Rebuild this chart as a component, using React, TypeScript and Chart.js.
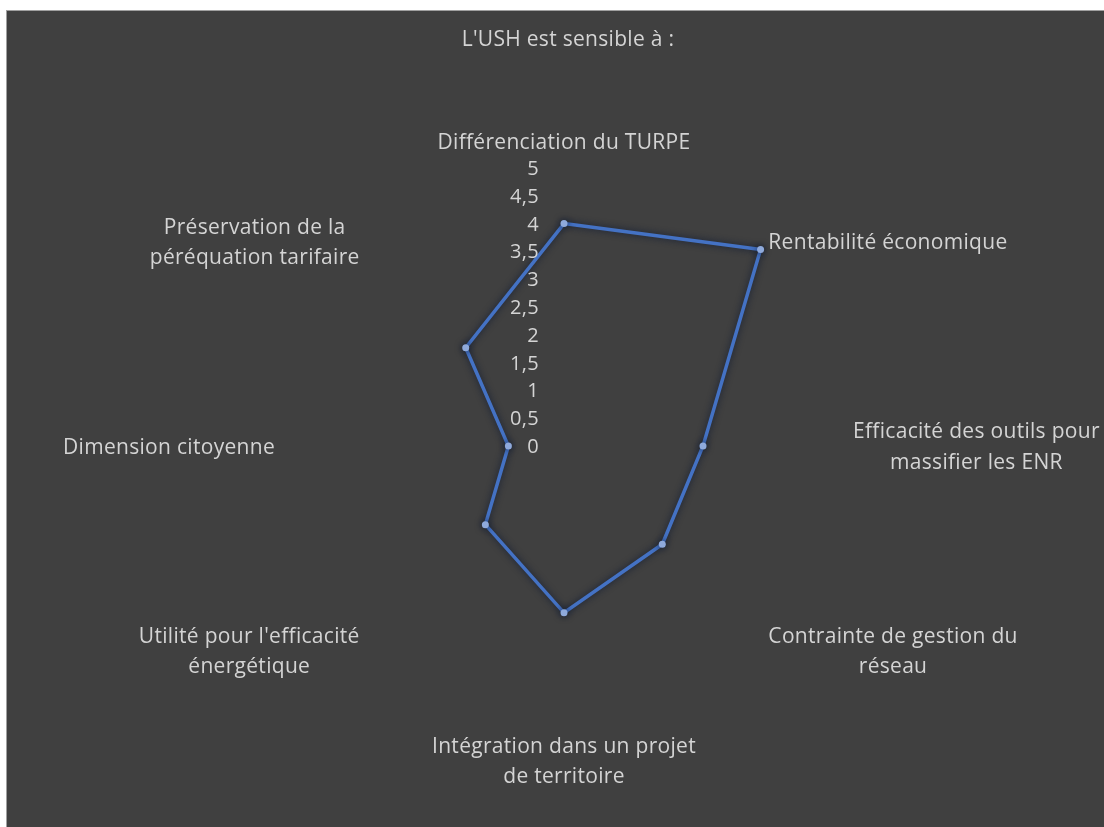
import React, { useEffect, useRef } from 'react';
import { Chart, registerables } from 'chart.js';

Chart.register(...registerables);

const TITLE = "L'USH est sensible à :";

const CATEGORIES: string[][] = [
  ['Différenciation du TURPE'],
  ['Rentabilité économique'],
  ['Efficacité des outils pour', 'massifier les ENR'],
  ['Contrainte de gestion du', 'réseau'],
  ['Intégration dans un projet', 'de territoire'],
  ["Utilité pour l'efficacité", 'énergétique'],
  ['Dimension citoyenne'],
  ['Préservation de la', 'péréquation tarifaire'],
];

const VALUES: number[] = [4, 5, 2.5, 2.5, 3, 2, 1, 2.5];

const TICK_LABELS: string[] = ['0', '0,5', '1', '1,5', '2', '2,5', '3', '3,5', '4', '4,5', '5'];

const FONT = "'Open Sans', 'Noto Sans', 'DejaVu Sans', sans-serif";
const TEXT_COLOR = '#d4d4d4';
const LINE_COLOR = '#4472C4';
const POINT_COLOR = '#8FAADC';
const BG = '#404040';

const excelPlugin = {
  id: 'excelLabels',
  beforeDatasetsDraw(chart: any) {
    const ctx = chart.ctx;
    ctx.save();
    ctx.shadowColor = 'rgba(15,25,50,0.95)';
    ctx.shadowBlur = 7;
  },
  afterDatasetsDraw(chart: any) {
    chart.ctx.restore();
  },
  afterDraw(chart: any) {
    const ctx = chart.ctx;
    const s = chart.scales.r;
    ctx.save();
    ctx.fillStyle = TEXT_COLOR;
    ctx.textBaseline = 'alphabetic';
    try { (ctx as any).letterSpacing = '0.3px'; } catch (e) { /* ignore */ }

    // title
    ctx.font = `21px ${FONT}`;
    ctx.textAlign = 'center';
    ctx.fillText(TITLE, s.xCenter + 4, 35);

    // tick labels (right aligned, left of the vertical axis)
    ctx.font = `20px ${FONT}`;
    ctx.textAlign = 'right';
    s.ticks.forEach((t: any, i: number) => {
      const y = s.yCenter - s.getDistanceFromCenterForValue(t.value);
      ctx.fillText(TICK_LABELS[i] ?? String(t.label), s.xCenter - 25, y + 7);
    });

    // point labels
    ctx.font = `21px ${FONT}`;
    ctx.textAlign = 'center';
    const labels = chart.data.labels as string[][];
    const n = labels.length;
    const L = 30.5;
    const cap = 15;
    labels.forEach((lines, i) => {
      const angle = (i * 360) / n;
      const p = s.getPointPosition(i, s.drawingArea + 11);
      const bw = Math.max(...lines.map((l) => ctx.measureText(l).width));
      let cx: number;
      if (angle === 0 || angle === 180) cx = p.x;
      else if (angle < 180) cx = p.x + bw / 2;
      else cx = p.x - bw / 2;
      let yc: number;
      if (angle === 0) yc = p.y - (lines.length * L) / 2;
      else if (angle === 180) yc = p.y - 5 + (lines.length * L) / 2;
      else yc = p.y;
      lines.forEach((line, k) => {
        ctx.fillText(line, cx, yc + (k - (lines.length - 1) / 2) * L + cap / 2);
      });
    });
    ctx.restore();
  },
};

export default function App() {
  const ref = useRef<HTMLCanvasElement>(null);

  useEffect(() => {
    if (!ref.current) return;
    const chart = new Chart(ref.current, {
      type: 'radar',
      data: {
        labels: CATEGORIES as any,
        datasets: [
          {
            data: VALUES,
            borderColor: LINE_COLOR,
            borderWidth: 3.5,
            pointRadius: 3.5,
            pointHoverRadius: 3.5,
            pointBackgroundColor: POINT_COLOR,
            pointBorderColor: POINT_COLOR,
            pointBorderWidth: 0,
            fill: false,
            tension: 0,
            clip: false as any,
          },
        ],
      },
      options: {
        responsive: false,
        animation: false,
        devicePixelRatio: 1,
        layout: { padding: { left: 279, right: 262, top: 157, bottom: 103 } },
        plugins: {
          legend: { display: false },
          title: { display: false },
          tooltip: { enabled: false },
        },
        scales: {
          r: {
            min: 0,
            max: 5,
            ticks: { stepSize: 0.5, display: false },
            grid: { display: false },
            angleLines: { display: false },
            pointLabels: { display: false },
          },
        },
      },
      plugins: [excelPlugin],
    });
    return () => chart.destroy();
  }, []);

  return (
    <div
      style={{
        position: 'fixed',
        left: 6,
        top: 10,
        width: 1098,
        height: 817,
        boxSizing: 'border-box',
        borderTop: '1px solid #a0a0a0',
        borderLeft: '1px solid #a0a0a0',
        background: BG,
        overflow: 'hidden',
      }}
    >
      <canvas ref={ref} width={1097} height={816} style={{ display: 'block' }} />
    </div>
  );
}
